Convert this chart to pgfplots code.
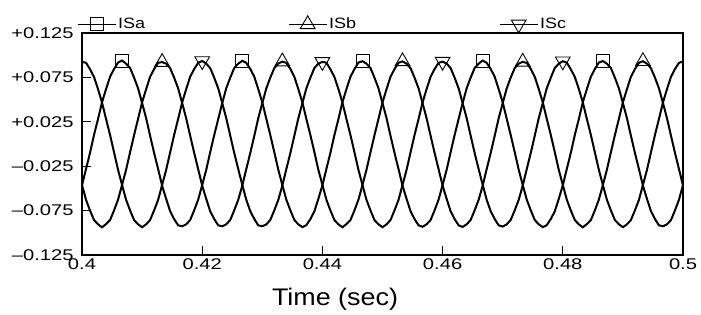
\documentclass[border=0pt]{standalone}
\usepackage{pgfplots}
\pgfplotsset{compat=1.18}
\usepackage{pgfplotstable}
\usepackage{fontspec}
\setmainfont{Liberation Sans}
\newfontfamily\tickfont[FakeStretch=1.3]{Liberation Sans}
\newfontfamily\legfont[FakeStretch=1.2]{Liberation Sans}
\newfontfamily\labfont[FakeStretch=1.12]{Liberation Sans}

\pgfplotstableread{
t a b c
0.40000 -0.0465 -0.0460 0.0925
0.40067 -0.0280 -0.0628 0.0915
0.40133 -0.0100 -0.0748 0.0842
0.40200 0.0102 -0.0856 0.0755
0.40267 0.0282 -0.0905 0.0618
0.40333 0.0470 -0.0938 0.0468
0.40400 0.0618 -0.0902 0.0282
0.40467 0.0758 -0.0856 0.0101
0.40533 0.0844 -0.0748 -0.0093
0.40600 0.0918 -0.0626 -0.0291
0.40667 0.0940 -0.0461 -0.0462
0.40733 0.0905 -0.0291 -0.0627
0.40800 0.0856 -0.0093 -0.0748
0.40867 0.0746 0.0101 -0.0857
0.40933 0.0627 0.0283 -0.0904
0.41000 0.0461 0.0469 -0.0937
0.41067 0.0291 0.0617 -0.0905
0.41133 0.0093 0.0757 -0.0856
0.41200 -0.0101 0.0844 -0.0747
0.41267 -0.0283 0.0915 -0.0628
0.41333 -0.0469 0.0922 -0.0461
0.41400 -0.0617 0.0905 -0.0292
0.41467 -0.0757 0.0853 -0.0093
0.41533 -0.0845 0.0748 0.0101
0.41600 -0.0916 0.0626 0.0283
0.41667 -0.0926 0.0460 0.0469
0.41733 -0.0905 0.0291 0.0617
0.41800 -0.0856 0.0093 0.0757
0.41867 -0.0746 -0.0101 0.0845
0.41933 -0.0627 -0.0283 0.0914
0.42000 -0.0461 -0.0469 0.0935
0.42067 -0.0291 -0.0617 0.0906
0.42133 -0.0093 -0.0757 0.0855
0.42200 0.0101 -0.0845 0.0747
0.42267 0.0283 -0.0916 0.0626
0.42333 0.0460 -0.0926 0.0461
0.42400 0.0627 -0.0905 0.0291
0.42467 0.0748 -0.0855 0.0093
0.42533 0.0856 -0.0747 -0.0101
0.42600 0.0905 -0.0627 -0.0283
0.42667 0.0936 -0.0469 -0.0460
0.42733 0.0914 -0.0283 -0.0627
0.42800 0.0845 -0.0101 -0.0757
0.42867 0.0757 0.0093 -0.0845
0.42933 0.0617 0.0291 -0.0916
0.43000 0.0469 0.0460 -0.0926
0.43067 0.0283 0.0627 -0.0905
0.43133 0.0101 0.0748 -0.0855
0.43200 -0.0093 0.0855 -0.0747
0.43267 -0.0291 0.0906 -0.0627
0.43333 -0.0461 0.0928 -0.0469
0.43400 -0.0627 0.0914 -0.0283
0.43467 -0.0747 0.0845 -0.0101
0.43533 -0.0855 0.0757 0.0093
0.43600 -0.0905 0.0617 0.0291
0.43667 -0.0936 0.0469 0.0461
0.43733 -0.0914 0.0283 0.0627
0.43800 -0.0845 0.0101 0.0747
0.43867 -0.0757 -0.0093 0.0856
0.43933 -0.0617 -0.0291 0.0905
0.44000 -0.0465 -0.0460 0.0925
0.44067 -0.0280 -0.0628 0.0915
0.44133 -0.0100 -0.0748 0.0842
0.44200 0.0102 -0.0856 0.0755
0.44267 0.0282 -0.0905 0.0618
0.44333 0.0470 -0.0938 0.0468
0.44400 0.0618 -0.0902 0.0282
0.44467 0.0758 -0.0856 0.0101
0.44533 0.0844 -0.0748 -0.0093
0.44600 0.0918 -0.0626 -0.0291
0.44667 0.0932 -0.0461 -0.0462
0.44733 0.0905 -0.0291 -0.0627
0.44800 0.0856 -0.0093 -0.0748
0.44867 0.0746 0.0101 -0.0857
0.44933 0.0627 0.0283 -0.0904
0.45000 0.0461 0.0469 -0.0937
0.45067 0.0291 0.0617 -0.0905
0.45133 0.0093 0.0757 -0.0856
0.45200 -0.0101 0.0844 -0.0747
0.45267 -0.0283 0.0915 -0.0628
0.45333 -0.0469 0.0930 -0.0461
0.45400 -0.0617 0.0905 -0.0292
0.45467 -0.0757 0.0853 -0.0093
0.45533 -0.0845 0.0748 0.0101
0.45600 -0.0916 0.0626 0.0283
0.45667 -0.0932 0.0460 0.0469
0.45733 -0.0905 0.0291 0.0617
0.45800 -0.0856 0.0093 0.0757
0.45867 -0.0746 -0.0101 0.0845
0.45933 -0.0627 -0.0283 0.0914
0.46000 -0.0461 -0.0469 0.0928
0.46067 -0.0291 -0.0617 0.0906
0.46133 -0.0093 -0.0757 0.0855
0.46200 0.0101 -0.0845 0.0747
0.46267 0.0283 -0.0916 0.0626
0.46333 0.0460 -0.0934 0.0461
0.46400 0.0627 -0.0905 0.0291
0.46467 0.0748 -0.0855 0.0093
0.46533 0.0856 -0.0747 -0.0101
0.46600 0.0905 -0.0627 -0.0283
0.46667 0.0940 -0.0469 -0.0460
0.46733 0.0914 -0.0283 -0.0627
0.46800 0.0845 -0.0101 -0.0757
0.46867 0.0757 0.0093 -0.0845
0.46933 0.0617 0.0291 -0.0916
0.47000 0.0469 0.0460 -0.0930
0.47067 0.0283 0.0627 -0.0905
0.47133 0.0101 0.0748 -0.0855
0.47200 -0.0093 0.0855 -0.0747
0.47267 -0.0291 0.0906 -0.0627
0.47333 -0.0461 0.0925 -0.0469
0.47400 -0.0627 0.0914 -0.0283
0.47467 -0.0747 0.0845 -0.0101
0.47533 -0.0855 0.0757 0.0093
0.47600 -0.0905 0.0617 0.0291
0.47667 -0.0936 0.0469 0.0461
0.47733 -0.0914 0.0283 0.0627
0.47800 -0.0845 0.0101 0.0747
0.47867 -0.0757 -0.0093 0.0856
0.47933 -0.0617 -0.0291 0.0905
0.48000 -0.0465 -0.0460 0.0932
0.48067 -0.0280 -0.0628 0.0915
0.48133 -0.0100 -0.0748 0.0842
0.48200 0.0102 -0.0856 0.0755
0.48267 0.0282 -0.0905 0.0618
0.48333 0.0470 -0.0938 0.0468
0.48400 0.0618 -0.0902 0.0282
0.48467 0.0758 -0.0856 0.0101
0.48533 0.0844 -0.0748 -0.0093
0.48600 0.0918 -0.0626 -0.0291
0.48667 0.0934 -0.0461 -0.0462
0.48733 0.0905 -0.0291 -0.0627
0.48800 0.0856 -0.0093 -0.0748
0.48867 0.0746 0.0101 -0.0857
0.48933 0.0627 0.0283 -0.0904
0.49000 0.0461 0.0469 -0.0937
0.49067 0.0291 0.0617 -0.0905
0.49133 0.0093 0.0757 -0.0856
0.49200 -0.0101 0.0844 -0.0747
0.49267 -0.0283 0.0915 -0.0628
0.49333 -0.0469 0.0932 -0.0461
0.49400 -0.0617 0.0905 -0.0292
0.49467 -0.0757 0.0853 -0.0093
0.49533 -0.0845 0.0748 0.0101
0.49600 -0.0916 0.0626 0.0283
0.49667 -0.0926 0.0460 0.0469
0.49733 -0.0905 0.0291 0.0617
0.49800 -0.0856 0.0093 0.0757
0.49867 -0.0746 -0.0101 0.0845
0.49933 -0.0627 -0.0283 0.0914
0.50000 -0.0461 -0.0469 0.0930
}\data

\begin{document}
\begin{tikzpicture}[x=1bp,y=1bp]
\useasboundingbox (-82,-59) rectangle (619,255);
\begin{axis}[
  at={(0,0)}, anchor=south west,
  scale only axis, width=601bp, height=222bp,
  xmin=0.4, xmax=0.5, ymin=-0.125, ymax=0.125,
  xtick={0.4,0.42,0.44,0.46,0.48,0.5},
  xticklabels={0.4,0.42,0.44,0.46,0.48,0.5},
  ytick={-0.125,-0.075,-0.025,0.025,0.075,0.125},
  yticklabels={\textendash0.125,\textendash0.075,\textendash0.025,+0.025,+0.075,+0.125},
  tick align=inside, major tick length=9bp,
  xtick pos=bottom, ytick pos=left,
  tick style={black, line width=0.9bp},
  axis line style={line width=1.1bp},
  ticklabel style={font=\fontsize{15.5bp}{18bp}\selectfont\tickfont},
  yticklabel style={xshift=-5bp},
  xlabel={Time (sec)},
  xlabel style={font=\fontsize{24bp}{28bp}\selectfont\labfont, at={(axis description cs:0.421,0)}, anchor=base, yshift=-50bp},
  legend columns=3,
  legend style={at={(axis description cs:0,1)}, anchor=south west, draw=none, fill=none,
    font=\fontsize{15bp}{18bp}\selectfont\legfont, xshift=-8bp, yshift=-2bp,
    /tikz/every even column/.append style={column sep=141bp}},
  legend image code/.code={\draw[#1, line width=1bp, mark indices={2}] plot coordinates {(0bp,0bp) (19bp,0bp) (38bp,0bp)};},
  every axis plot/.append style={black, line width=2bp},
]
\addplot[mark=square, mark size=6.5bp, mark indices={11,41,71,101,131}, mark options={solid, line width=0.9bp}] table[x=t,y=a] {\data};
\addplot[mark=triangle, mark size=8.5bp, mark indices={21,51,81,111,141}, mark options={solid, line width=0.9bp}] table[x=t,y=b] {\data};
\addplot[mark=triangle, mark size=8.5bp, mark indices={31,61,91,121}, mark options={solid, line width=0.9bp, rotate=180}] table[x=t,y=c] {\data};
\legend{ISa,ISb,ISc}
\end{axis}
\end{tikzpicture}
\end{document}
